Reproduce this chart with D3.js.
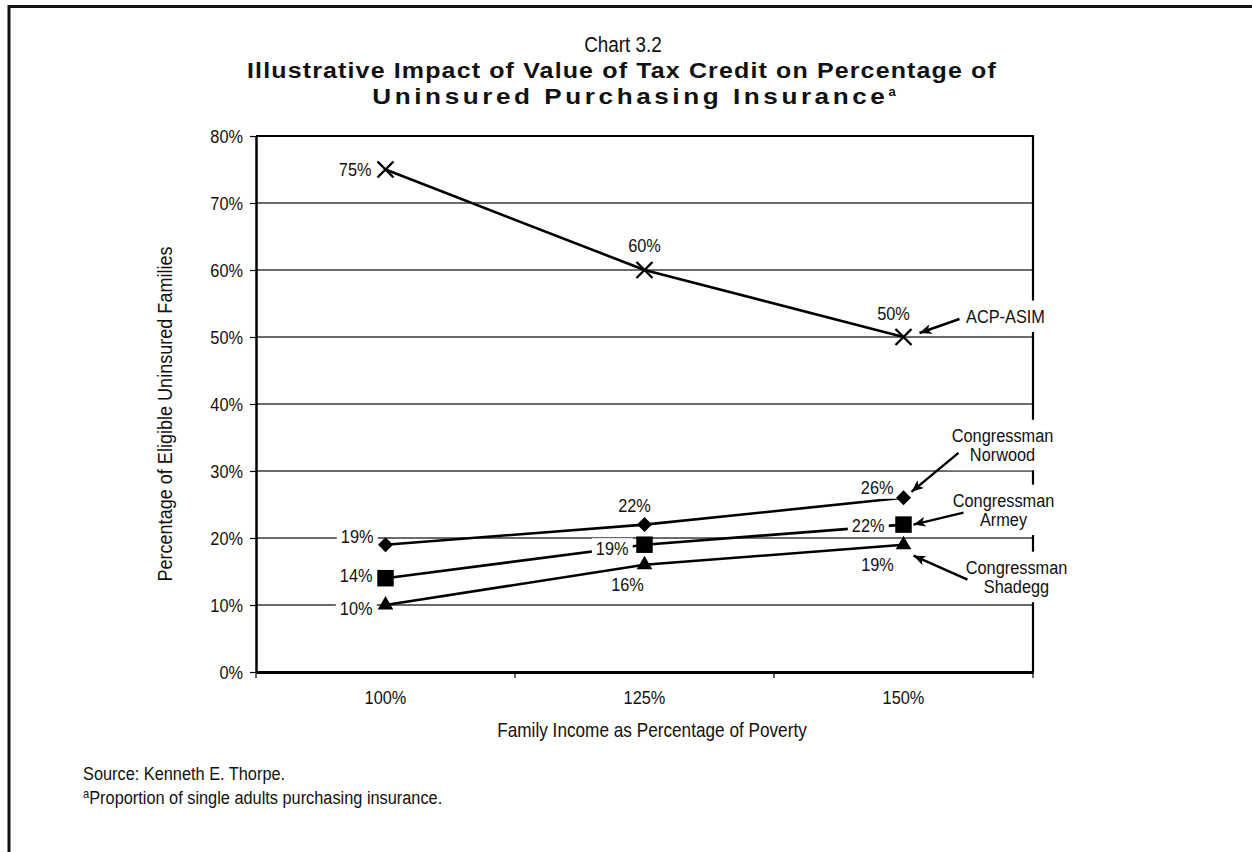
<!DOCTYPE html>
<html>
<head>
<meta charset="utf-8">
<script src="https://cdn.jsdelivr.net/npm/d3@7"></script>
<style>
  body { margin: 0; background: #fff; }
  text { font-family: "Liberation Sans", Arial, sans-serif; fill: #111; }
</style>
</head>
<body>
<svg id="chart" width="1252" height="852"></svg>
<script>
// ---- data ----
const incomeLevels = ["100%", "125%", "150%"];
const yTickValues = [0, 10, 20, 30, 40, 50, 60, 70, 80];
const acpAsim = [75, 60, 50];
const norwood = [19, 22, 26];
const armey = [14, 19, 22];
const shadegg = [10, 16, 19];

const titleTop = "Chart 3.2";
const titleMain = ["Illustrative Impact of Value of Tax Credit on Percentage of",
                   "Uninsured Purchasing Insurance"];
const xTitle = "Family Income as Percentage of Poverty";
const yTitle = "Percentage of Eligible Uninsured Families";
const sourceNote = "Source: Kenneth E. Thorpe.";
const footNote = "Proportion of single adults purchasing insurance.";

// ---- layout ----
const W = 1252, H = 852;
const plot = { left: 256, right: 1033, top: 136, bottom: 672 };
const K = 0.86;            // horizontal squeeze giving a narrow face
const svg = d3.select("#chart");

const x = d3.scaleBand().domain(incomeLevels).range([plot.left, plot.right]);
const cx = d => x(d) + x.bandwidth() / 2;
const y = d3.scaleLinear().domain([0, 80]).range([plot.bottom, plot.top]);

// narrow text block: group translated to (px,py) and squeezed horizontally
function narrowText(parent, px, py, lines, opt) {
  const o = Object.assign({ size: 19, anchor: "middle", lead: 20, bg: false, padX: 4, padY: 0, weight: "normal" }, opt);
  const g = parent.append("g").attr("transform", `translate(${px},${py}) scale(${K},1)`);
  const rect = o.bg ? g.append("rect").attr("fill", "#fff") : null;
  const t = g.append("text").attr("text-anchor", o.anchor)
    .style("font-size", o.size + "px").style("font-weight", o.weight);
  const y0 = -(lines.length - 1) * o.lead / 2;
  lines.forEach((ln, k) => {
    t.append("tspan").attr("x", 0).attr("y", y0 + k * o.lead).attr("dy", "0.35em").text(ln);
  });
  if (rect) {
    const b = t.node().getBBox();
    rect.attr("x", b.x - o.padX / K).attr("y", b.y - o.padY)
      .attr("width", b.width + 2 * o.padX / K).attr("height", b.height + 2 * o.padY);
  }
  return g;
}
function squeeze(sel) {
  sel.each(function () {
    const t = d3.select(this);
    t.attr("x", (+t.attr("x") || 0) / K)
     .attr("transform", `scale(${K},1)`);
  });
}

// page frame (top and left edges)
svg.append("path")
  .attr("d", `M9,${H} L9,6.5 L${W},6.5`)
  .attr("fill", "none").attr("stroke", "#111").attr("stroke-width", 3);

// ---- titles ----
narrowText(svg, 623, 44, [titleTop], { size: 22 });
svg.append("text").attr("x", 622).attr("y", 78).attr("text-anchor", "middle")
  .style("font-size", "22px").style("font-weight", "bold").style("letter-spacing", "1px")
  .attr("textLength", 750).attr("lengthAdjust", "spacingAndGlyphs")
  .text(titleMain[0]);
const t3 = svg.append("text").attr("x", 634).attr("y", 104).attr("text-anchor", "middle")
  .style("font-size", "22px").style("font-weight", "bold").style("letter-spacing", "3px");
t3.append("tspan").attr("textLength", 516).attr("lengthAdjust", "spacingAndGlyphs").text(titleMain[1]);
t3.append("tspan").attr("dy", -8).style("font-size", "13px").style("letter-spacing", "0px").text("a");

// ---- gridlines ----
svg.append("g").selectAll("line")
  .data(yTickValues.filter(v => v > 0 && v < 80))
  .join("line")
  .attr("x1", plot.left).attr("x2", plot.right)
  .attr("y1", d => y(d)).attr("y2", d => y(d))
  .attr("stroke", "#3a3a3a").attr("stroke-width", 1.4);

// ---- axes ----
const yAxis = svg.append("g").attr("transform", `translate(${plot.left},0)`)
  .call(d3.axisLeft(y).tickValues(yTickValues).tickFormat(d => d + "%").tickSize(6).tickSizeOuter(0));
yAxis.select(".domain").attr("stroke", "#000").attr("stroke-width", 2.5);
yAxis.selectAll(".tick line").attr("stroke", "#000").attr("stroke-width", 1.2);
yAxis.selectAll(".tick text").attr("x", -13).style("font-size", "19px")
  .style("font-family", "'Liberation Sans',Arial,sans-serif").attr("fill", "#111")
  .call(squeeze);

// top and right plot border
svg.append("path")
  .attr("d", `M${plot.left},${plot.top} L${plot.right},${plot.top} L${plot.right},${plot.bottom}`)
  .attr("fill", "none").attr("stroke", "#000").attr("stroke-width", 2.2);

const xAxis = svg.append("g").attr("transform", `translate(0,${plot.bottom})`)
  .call(d3.axisBottom(x).tickSize(0).tickPadding(19).tickSizeOuter(0));
xAxis.select(".domain").attr("stroke", "#000").attr("stroke-width", 3);
xAxis.selectAll(".tick text").style("font-size", "19px")
  .style("font-family", "'Liberation Sans',Arial,sans-serif").attr("fill", "#111")
  .call(squeeze);
// category boundary ticks
const boundaries = incomeLevels.map(d => x(d)).concat([x(incomeLevels[incomeLevels.length - 1]) + x.bandwidth()]);
xAxis.append("g").selectAll("line").data(boundaries).join("line")
  .attr("x1", d => d).attr("x2", d => d).attr("y1", 0).attr("y2", 6)
  .attr("stroke", "#000").attr("stroke-width", 1.2);

// axis titles
narrowText(svg, 652, 730, [xTitle], { size: 20 });
const yt = svg.append("g").attr("transform", `translate(165,${(plot.top + plot.bottom) / 2 + 10}) rotate(-90)`);
narrowText(yt, 0, 0, [yTitle], { size: 21 });

// ---- series ----
const series = [
  { name: ["ACP-ASIM"], values: acpAsim, marker: "x",
    labels: [{ a: "end", dx: -14, dy: 0 }, { a: "middle", dx: 0, dy: -25 }, { a: "middle", dx: -10, dy: -24 }],
    note: { tx: 102, ty: -21, tail: [56, -18], tip: [16, -4] } },
  { name: ["Congressman", "Norwood"], values: norwood, marker: "diamond",
    labels: [{ a: "end", dx: -12, dy: -8 }, { a: "middle", dx: -10, dy: -19 }, { a: "end", dx: -10, dy: -10 }],
    note: { tx: 99, ty: -53, tail: [55, -45], tip: [8, -6] } },
  { name: ["Congressman", "Armey"], values: armey, marker: "square",
    labels: [{ a: "end", dx: -13, dy: -3 }, { a: "end", dx: -16, dy: 4 }, { a: "end", dx: -19, dy: 1 }],
    note: { tx: 100, ty: -15, tail: [60, -12], tip: [10, 0] } },
  { name: ["Congressman", "Shadegg"], values: shadegg, marker: "triangle",
    labels: [{ a: "end", dx: -13, dy: 3 }, { a: "middle", dx: -17, dy: 20 }, { a: "middle", dx: -26, dy: 20 }],
    note: { tx: 113, ty: 32, tail: [64, 35], tip: [10, 11] } }
];

const line = d3.line().x((d, i) => cx(incomeLevels[i])).y(d => y(d));
const gLines = svg.append("g");
series.forEach(s => {
  gLines.append("path").datum(s.values).attr("d", line)
    .attr("fill", "none").attr("stroke", "#000").attr("stroke-width", 2.6);
});

// data labels on white backing
const gLabels = svg.append("g");
series.forEach(s => {
  s.values.forEach((v, i) => {
    const L = s.labels[i];
    narrowText(gLabels, cx(incomeLevels[i]) + L.dx, y(v) + L.dy, [v + "%"],
      { anchor: L.a, bg: true, padX: 4, padY: 0 });
  });
});

// markers
const gMarks = svg.append("g");
const markerShape = {
  x: () => "M-8,-8L8,8M-8,8L8,-8",
  diamond: () => d3.symbol(d3.symbolSquare, 112)(),
  square: () => d3.symbol(d3.symbolSquare, 272)(),
  triangle: () => d3.symbol(d3.symbolTriangle, 105)()
};
series.forEach(s => {
  s.values.forEach((v, i) => {
    const p = gMarks.append("path")
      .attr("d", markerShape[s.marker]())
      .attr("transform", `translate(${cx(incomeLevels[i])},${y(v)})` + (s.marker === "diamond" ? " rotate(45)" : ""));
    if (s.marker === "x") p.attr("fill", "none").attr("stroke", "#000").attr("stroke-width", 2.4);
    else p.attr("fill", "#000");
  });
});

// ---- series call-outs with arrows ----
svg.append("defs").append("marker")
  .attr("id", "arrowhead").attr("markerUnits", "userSpaceOnUse")
  .attr("viewBox", "0 0 12 10").attr("refX", 12).attr("refY", 5)
  .attr("markerWidth", 12).attr("markerHeight", 10).attr("orient", "auto")
  .append("path").attr("d", "M0,0 L12,5 L0,10 L3,5 Z").attr("fill", "#000");

const gNotes = svg.append("g");
series.forEach(s => {
  const last = s.values.length - 1;
  const px = cx(incomeLevels[last]), py = y(s.values[last]);
  const n = s.note;
  narrowText(gNotes, px + n.tx, py + n.ty, s.name, { bg: true, padX: 5, padY: 5, lead: 19 });
  gNotes.append("line")
    .attr("x1", px + n.tail[0]).attr("y1", py + n.tail[1])
    .attr("x2", px + n.tip[0]).attr("y2", py + n.tip[1])
    .attr("stroke", "#000").attr("stroke-width", 2.4).attr("marker-end", "url(#arrowhead)");
});

// ---- footer ----
narrowText(svg, 83, 773, [sourceNote], { anchor: "start", size: 19 });
const fg = svg.append("g").attr("transform", `translate(83,804) scale(${K},1)`);
const fn = fg.append("text").style("font-size", "19px");
fn.append("tspan").attr("dy", -6).style("font-size", "13px").text("a");
fn.append("tspan").attr("dy", 6).text(footNote);
</script>
</body>
</html>
